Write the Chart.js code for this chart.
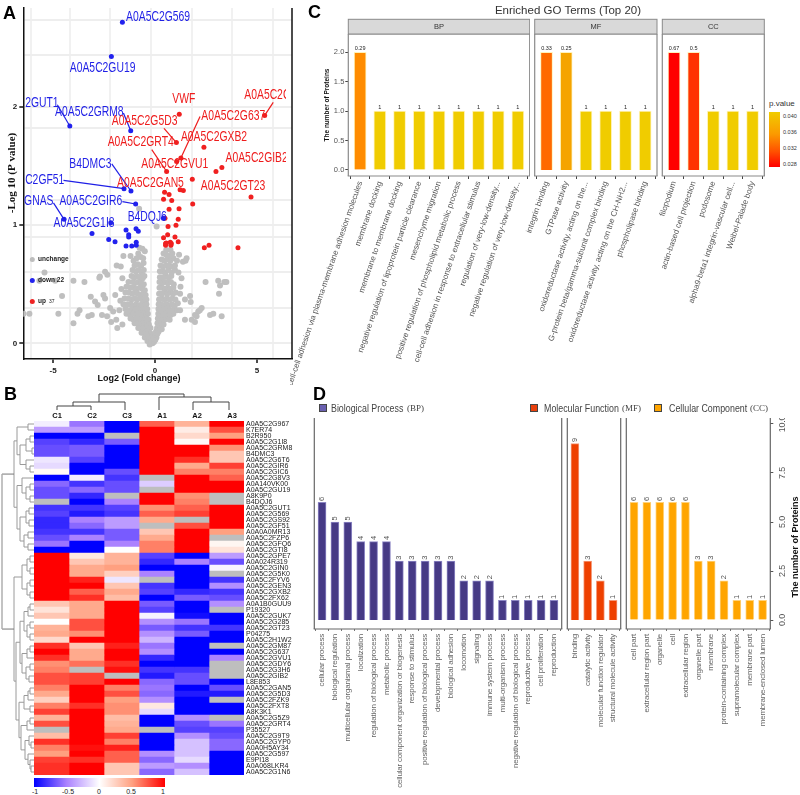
<!DOCTYPE html>
<html>
<head>
<meta charset="utf-8">
<title>Proteomics figure</title>
<script src="https://cdn.jsdelivr.net/npm/chart.js@4"></script>
<style>
  html, body { margin: 0; background: #fff; }
  #page { position: relative; width: 800px; height: 795px; overflow: hidden; font-family: "Liberation Sans", sans-serif; }
  #page canvas { position: absolute; }
  .txt { position: absolute; white-space: nowrap; line-height: 1; }
  .letter { font: bold 18px "Liberation Sans", sans-serif; color: #000; }
  .box { position: absolute; }
</style>
</head>
<body>
<div id="page"></div>
<script>
// ---- panel A: volcano plot
const upPoints = [[1.19,1.94],[5.38,1.93],[1.05,1.70],[2.40,1.66],[1.27,1.57],[1.06,1.54],[2.99,1.455],[3.28,1.49],[0.57,1.455],[1.83,1.39],[1.23,1.30],[1.39,1.295],[0.47,1.28],[0.69,1.26],[0.42,1.22],[0.82,1.21],[1.85,1.18],[4.71,1.24],[0.69,1.135],[1.18,1.14],[1.14,1.05],[0.49,1.06],[0.64,0.99],[1.03,1.00],[0.62,0.92],[0.98,0.90],[0.42,0.895],[1.14,0.86],[0.75,0.855],[0.52,0.845],[0.52,0.83],[0.78,0.83],[2.42,0.81],[2.65,0.83],[4.07,0.81],[0.55,0.85],[0.8,0.845]];
const downPoints = [[-1.60,2.72],[-2.14,2.43],[-4.18,1.84],[-1.19,1.80],[-1.52,1.31],[-1.18,1.29],[-0.95,1.18],[-4.46,1.05],[-2.17,1.02],[-3.09,0.93],[-1.42,0.96],[-0.93,0.97],[-0.82,0.95],[-1.29,0.92],[-1.29,0.90],[-2.27,0.88],[-1.96,0.86],[-1.42,0.825],[-1.14,0.825],[-0.92,0.855],[-0.92,0.83],[0.41,1.06]];
const unchangedPoints = [
  [-6.45,.25],[-6.16,.25],[-5.67,.53],[-5.42,.60],[-4.9,.53],[-4.56,.40],[-4.74,.25],[-4.0,.17],[-4.0,.53],[-3.46,.52],[-3.8,.25],[-3.7,.28],[-3.27,.23],[-3.1,.24],
  [-2.7,.565],[-2.73,.556],[-2.45,.607],[-2.34,.58],[-3.15,.395],[-2.94,.353],[-2.81,.325],[-2.53,.41],[-2.45,.38],[-2.6,.24],[-2.35,.23],[-2.2,.3],[-1.95,.41],[-1.88,.66],[-1.68,.65],[-1.55,.74],[-1.2,.74],
  [-1.9,.2],[-1.75,.28],[-1.7,.36],[-1.65,.46],[-1.6,.55],[-2.05,.27],[-2.15,.18],[-1.85,.13],[-1.6,.16],
  [.08,.99],[-.78,1.14],[-.76,.81],[-.62,.8],[-.5,.78],[-.82,.76],[-.9,.72],[-.7,.73],[-.58,.72],[-1.05,.7],[-1.0,.66],[-.85,.67],[-.68,.66],[-.56,.68],[-1.1,.62],[-.95,.61],[-.8,.62],[-.65,.6],[-.55,.62],
  [-1.15,.57],[-1.0,.56],[-.88,.57],[-.74,.56],[-.6,.55],[-.52,.57],[-1.3,.52],[-1.1,.52],[-.97,.51],[-.82,.52],[-.68,.51],[-.55,.5],[-1.4,.48],[-1.2,.47],[-1.05,.47],[-.9,.46],[-.75,.47],[-.62,.46],[-.5,.45],
  [-1.45,.43],[-1.28,.43],[-1.12,.42],[-.98,.43],[-.85,.42],[-.7,.41],[-.58,.42],[-.46,.41],[-1.5,.38],[-1.3,.38],[-1.15,.37],[-1.0,.38],[-.88,.37],[-.75,.38],[-.62,.37],[-.5,.36],[-.42,.37],
  [-1.55,.33],[-1.35,.33],[-1.2,.33],[-1.05,.32],[-.92,.33],[-.78,.32],[-.65,.33],[-.52,.32],[-.42,.33],[-1.45,.29],[-1.28,.28],[-1.12,.29],[-.98,.28],[-.85,.29],[-.72,.28],[-.6,.29],[-.48,.28],[-.38,.29],
  [-1.4,.25],[-1.22,.24],[-1.08,.25],[-.94,.24],[-.8,.25],[-.67,.24],[-.55,.25],[-.44,.24],[-.35,.25],[-1.2,.21],[-1.05,.2],[-.9,.21],[-.77,.2],[-.64,.21],[-.52,.2],[-.4,.21],[-.32,.2],
  [-1.0,.17],[-.86,.17],[-.74,.16],[-.62,.17],[-.5,.16],[-.4,.17],[-.3,.16],[-.82,.13],[-.7,.13],[-.6,.13],[-.5,.12],[-.4,.13],[-.3,.12],[-.22,.13],[-.66,.09],[-.56,.09],[-.46,.09],[-.37,.08],[-.28,.09],[-.2,.08],[-.5,.05],[-.41,.05],[-.33,.06],[-.25,.05],[-.17,.05],[-.1,.05],[-.37,.02],[-.29,.02],[-.22,.01],[-.15,.02],[-.08,.02],[-.26,-.01],[-.19,0],[-.12,0],[-.05,.01],
  [.02,.03],[.07,.05],[.0,.07],[.12,.08],[.05,.1],[.18,.1],[.1,.13],[.25,.13],[.33,.12],[.12,.17],[.2,.16],[.3,.17],[.42,.16],[.14,.21],[.24,.2],[.35,.21],[.47,.2],[.58,.21],[.72,.2],[.16,.25],[.27,.24],[.39,.25],[.51,.24],[.63,.25],[.77,.24],[.9,.25],
  [.17,.29],[.29,.28],[.41,.29],[.53,.28],[.66,.29],[.8,.28],[.95,.29],[1.08,.28],[.18,.33],[.31,.33],[.44,.32],[.56,.33],[.69,.32],[.83,.33],[.97,.32],[1.12,.34],[.2,.37],[.33,.38],[.46,.37],[.59,.38],[.72,.37],[.86,.38],[1.0,.37],
  [.2,.42],[.34,.42],[.47,.43],[.6,.42],[.74,.43],[.88,.42],[1.02,.43],[.22,.47],[.35,.47],[.49,.46],[.62,.47],[.76,.46],[.9,.47],[.22,.52],[.36,.51],[.5,.52],[.64,.51],[.78,.52],[.92,.5],[.24,.56],[.38,.56],[.52,.57],[.66,.56],[.8,.57],[.24,.61],[.38,.61],[.52,.6],[.66,.62],[.82,.6],[.98,.62],[.27,.66],[.4,.65],[.55,.66],[.7,.66],[.86,.65],[.98,.66],[.33,.71],[.46,.7],[.6,.71],[.75,.7],[.9,.72],[1.08,.7],[.42,.76],[.55,.75],[.7,.74],[.85,.76],[1.18,.75],[1.55,.72],[1.5,.7],[1.37,.69],[.55,.79],[.76,.79],
  [1.23,.42],[1.47,.37],[1.23,.28],[1.47,.2],[1.72,.4],[1.75,.35],[2.29,.3],[2.12,.27],[1.96,.24],[2.2,.28],[2.04,.23],[1.8,.2],[1.96,.18],[2.7,.24],[2.86,.25],[3.27,.23],[2.48,.52],[3.1,.53],[3.5,.52],[3.19,.49],[3.4,.52],[3.14,.42],[1.3,.55],[1.15,.6],[1.25,.48]
];
const volcanoTicksX = [-5, 0, 5];
const volcanoTicksY = [0, 1, 2];
const volcanoGridX = [-6.1, -4.17, -2.2, -0.21, 1.8, 3.76, 5.8];
const volcanoGridY = [2.74, 2.44, 1.82, 1.21, 0.9, 0.6, 0.3];
const blueLeaders = [[-4.79,2.02,-4.18,1.84],[-1.55,1.95,-1.19,1.80],[-2.12,1.52,-1.18,1.29],[-4.49,1.38,-1.52,1.31],[-1.60,1.20,-0.95,1.18],[-4.98,1.19,-4.46,1.05]];
const redLeaders = [[5.80,2.04,5.38,1.93],[2.21,1.92,1.27,1.57],[0.44,1.82,1.05,1.70],[-0.16,1.64,0.57,1.455]];
const blueNames = ['A0A5C2G569','A0A5C2GU19','2GUT1','A0A5C2GRM8','B4DMC3','C2GF51','GNAS','A0A5C2GIR6','A0A5C2G1I8','B4DQJ6'];
const blueNameX = [-1.42,-4.18,-6.37,-4.90,-4.20,-6.37,-6.42,-4.69,-4.98,-1.34];
const blueNameY = [2.76,2.33,2.03,1.96,1.52,1.38,1.20,1.20,1.02,1.07];
const redNames = ['VWF','A0A5C2G','A0A5C2G637','A0A5C2G5D3','A0A5C2GXB2','A0A5C2GRT4','A0A5C2GIB2','A0A5C2GVU1','A0A5C2GAN5','A0A5C2GT23'];
const redNameX = [0.85,4.38,2.27,-2.12,1.27,-2.32,3.46,-0.67,-1.86,2.25];
const redNameY = [2.07,2.10,1.92,1.88,1.75,1.70,1.565,1.52,1.36,1.33];

// ---- panel B: heatmap, null = no value
const heatColumns = ['C1','C2','C3','A1','A2','A3'];
const heatRows = ['A0A5C2G967','K7ER74','B2R950','A0A5C2G1I8','A0A5C2GRM8','B4DMC3','A0A5C2G6T6','A0A5C2GIR6','A0A5C2GIC6','A0A5C2G8V3','A0A140VK00','A0A5C2GU19','A8K9P0','B4DQJ6','A0A5C2GUT1','A0A5C2G569','A0A5C2GS92','A0A5C2GF51','A0A0A0MR13','A0A5C2FZP6','A0A5C2GFQ6','A0A5C2GTI8','A0A5C2GPE7','A0A024R319','A0A5C2GIN0','A0A5C2G5K0','A0A5C2FYV6','A0A5C2GEN3','A0A5C2GXB2','A0A5C2FX62','A0A1B0GUU9','P19320','A0A5C2GUK7','A0A5C2G285','A0A5C2GT23','P04275','A0A5C2H1W2','A0A5C2GM87','A0A5C2G637','A0A5C2GVU1','A0A5C2GDY6','A0A5C2G3H6','A0A5C2GIB2','L8E853','A0A5C2GAN5','A0A5C2G5D3','A0A5C2FZK9','A0A5C2FXT8','A8K3K1','A0A5C2G5Z9','A0A5C2GRT4','P35527','A0A5C2G9T9','A0A5C2GYP0','A0A0H5AY34','A0A5C2G597','E9PI18','A0A068LKR4','A0A5C2G1N6'];
const heatValues = [
  [-.07,-.55,-1,.7,.4,1],[-.4,-.4,-1,1,.1,.75],[-1,-1,null,1,.2,.5],[-.75,-.85,-.65,1,.03,1],[-.7,-.65,-1,1,1,.55],[-.7,-.65,-1,1,1,.3],[-.1,-.75,-1,1,.85,.3],[-.15,-1,-1,1,.45,.8],[.03,-1,-.7,1,.6,.6],
  [-1,-.08,-.8,null,1,.7],[-.6,-.8,-.7,-.2,1,1],[-.7,-.6,-.7,null,1,1],[-.7,-.85,null,1,.55,null],[null,-1,-.5,1,.6,null],[-.8,-.8,-.75,.55,.7,1],[-.75,-.9,-.8,.7,.8,1],[-.85,-.5,-.4,.45,null,1],[-.85,-.6,-.4,null,.75,1],
  [-.8,-.8,-.65,.3,1,.5],[-.7,-.5,-.65,.45,1,null],[-.55,-1,-.5,.6,1,.05],[-1,-1,0,.6,1,.15],
  [1,.12,.4,-.75,-1,-.4],[1,.3,.4,-.85,-.5,-.7],[1,.45,.5,-1,-1,-.05],[1,.45,.25,-.5,-1,null],[1,.9,-.1,null,-1,-.8],[1,1,.3,-.8,-1,-.45],[1,.7,.45,-.75,-.85,-.8],[1,.85,.35,-1,-.65,-.7],
  [.3,.45,1,-.65,-1,-.45],[.15,.45,1,-.75,-1,null],[.3,.45,1,-.05,-.95,-1],[0,.75,1,-.45,-.55,-1],[.4,.75,1,-.65,-.8,-.8],[.45,.55,1,-.45,-.65,-1],[.2,1,1,-.3,-1,-1],
  [.85,.3,.9,-.55,-1,null],[1,.45,1,-.45,-1,-1],[.85,.45,1,-.85,-1,-.5],[.55,.65,.85,-1,-1,null],[.6,null,.95,-.8,-.8,null],[.75,.8,null,-.9,-.7,null],[.75,.8,1,-.6,-.7,-1],
  [.6,1,.6,-.55,-1,-.7],[.45,1,.75,-.6,-.9,-.9],[.25,1,.5,-.45,-1,null],[.6,.85,.55,.12,-1,-1],[.8,1,.55,-.15,-1,-1],[.4,1,.35,-1,-.45,null],[.75,1,.4,-1,-.7,-.55],[null,1,.45,null,-.75,-.75],
  [.35,1,.8,-1,-.45,-.7],[.85,1,.6,-1,-.25,-.6],[.6,.95,.9,-1,-.25,-.6],[.5,1,.7,-.45,-.25,-1],[.8,.85,.7,-.6,-.15,-1],[.85,1,.3,-.4,-.45,-1],[.85,1,.3,-.6,-.25,-1]
];
const rowTree = [14,
  [17, [28,1,2], [20, [26,[30,3,4],[32,5,6]], [26,7,[30,8,9]]]],
  [17, [22,10,[26,[30,11,12],[30,13,14]]], [20,[26,[29,15,16],[29,17,18]],[24,[28,19,20],[28,21,22]]]]
];
const rowTree2 = [14,
  [22,[27,[30,23,24],[30,25,26]],[27,[30,27,28],[30,29,30]]],
  [16,
    [20,[24,[28,[30,31,32],33],[27,[30,34,35],[30,36,37]]],[22,[27,[30,38,39],40],[26,[30,41,42],[29,43,44]]]],
    [19,[24,[28,[30,45,46],47],[30,48,49]],[21,[27,[30,50,51],52],[25,[29,53,[31,54,55]],[28,56,[30,57,[31,58,59]]]]]]
  ]
];
const colorBarTicks = ['-1','-0.5','0','0.5','1'];

// ---- panel C: enriched GO terms
const goBpTerms = ['cell-cell adhesion via plasma-membrane adhesion molecules','membrane docking','membrane to membrane docking','negative regulation of lipoprotein particle clearance','mesenchyme migration','positive regulation of phospholipid metabolic process','cell-cell adhesion in response to extracellular stimulus','regulation of very-low-density...','negative regulation of very-low-density...'];
const goBpCounts = [2,1,1,1,1,1,1,1,1];
const goBpTexts = ['0.29','1','1','1','1','1','1','1','1'];
const goBpColors = ['#ff8c00','#f0cc00','#f0cc00','#f0cc00','#f0cc00','#f0cc00','#f0cc00','#f0cc00','#f0cc00'];
const goMfTerms = ['integrin binding','GTPase activity','oxidoreductase activity, acting on the...','G-protein beta/gamma-subunit complex binding','oxidoreductase activity, acting on the CH-NH2...','phospholipase binding'];
const goMfCounts = [2,2,1,1,1,1];
const goMfTexts = ['0.33','0.25','1','1','1','1'];
const goMfColors = ['#ff6a00','#f5a400','#f0cc00','#f0cc00','#f0cc00','#f0cc00'];
const goCcTerms = ['filopodium','actin-based cell projection','podosome','alpha9-beta1 integrin-vascular cell...','Weibel-Palade body'];
const goCcCounts = [2,2,1,1,1];
const goCcTexts = ['0.67','0.5','1','1','1'];
const goCcColors = ['#ff0000','#ff3300','#f0cc00','#f0cc00','#f0cc00'];
const pValueTicks = ['0.040','0.036','0.032','0.028'];

// ---- panel D: GO classification
const clsBpTerms = ['cellular process','biological regulation','multicellular organismal process','localization','regulation of biological process','metabolic process','cellular component organization or biogenesis','response to stimulus','positive regulation of biological process','developmental process','biological adhesion','locomotion','signaling','immune system process','multi-organism process','negative regulation of biological process','reproductive process','cell proliferation','reproduction'];
const clsBpCounts = [6,5,5,4,4,4,3,3,3,3,3,2,2,2,1,1,1,1,1];
const clsMfTerms = ['binding','catalytic activity','molecular function regulator','structural molecule activity'];
const clsMfCounts = [9,3,2,1];
const clsCcTerms = ['cell part','extracellular region part','organelle','cell','extracellular region','organelle part','membrane','protein-containing complex','supramolecular complex','membrane part','membrane-enclosed lumen'];
const clsCcCounts = [6,6,6,6,6,3,3,2,1,1,1];

// ---- helpers
Chart.defaults.animation = false;
Chart.defaults.responsive = false;
Chart.defaults.devicePixelRatio = 1;
Chart.defaults.plugins.legend.display = false;
Chart.defaults.plugins.tooltip.enabled = false;
Chart.defaults.font.family = '"Liberation Sans", sans-serif';
const page = document.getElementById('page');

function addCanvas(x, y, w, h) {
  const c = document.createElement('canvas');
  c.width = w; c.height = h;
  c.style.left = x + 'px'; c.style.top = y + 'px';
  c.style.width = w + 'px'; c.style.height = h + 'px';
  page.appendChild(c);
  return c;
}
function addText(text, x, y, css) {
  const d = document.createElement('div');
  d.className = 'txt';
  d.textContent = text;
  d.style.cssText += `left:${x}px;top:${y}px;${css || ''}`;
  page.appendChild(d);
  return d;
}
function addBox(x, y, w, h, css) {
  const d = document.createElement('div');
  d.className = 'box';
  d.style.cssText += `left:${x}px;top:${y}px;width:${w}px;height:${h}px;${css || ''}`;
  page.appendChild(d);
}
// keep the plot area where the figure has it, whatever the tick labels measure
function fixedSize(size) {
  return s => {
    if (s.isHorizontal()) s.height = size; else s.width = size;
    s.paddingLeft = s.paddingRight = s.paddingTop = s.paddingBottom = 0;
  };
}
function toPoints(list) { return list.map(p => ({ x: p[0], y: p[1] })); }
function line(ctx, x1, y1, x2, y2) { ctx.beginPath(); ctx.moveTo(x1, y1); ctx.lineTo(x2, y2); ctx.stroke(); }

function frame(sides, color, width) {
  return { id: 'frame', afterDraw(chart) {
    const { ctx, chartArea: a } = chart;
    ctx.save();
    ctx.strokeStyle = color; ctx.lineWidth = width;
    if (sides.includes('l')) line(ctx, a.left, a.top, a.left, a.bottom);
    if (sides.includes('r')) line(ctx, a.right, a.top, a.right, a.bottom);
    if (sides.includes('b')) line(ctx, a.left - width / 2, a.bottom, a.right + width / 2, a.bottom);
    if (sides.includes('t')) line(ctx, a.left, a.top, a.right, a.top);
    ctx.restore();
  } };
}
function strip(title) {
  return { id: 'strip', afterDraw(chart) {
    const { ctx, chartArea: a } = chart;
    ctx.save();
    ctx.fillStyle = '#d9d9d9'; ctx.strokeStyle = '#8a8a8a'; ctx.lineWidth = 1;
    ctx.fillRect(a.left, a.top - 14.7, a.right - a.left, 14.7);
    ctx.strokeRect(a.left, a.top - 14.7, a.right - a.left, 14.7);
    ctx.fillStyle = '#333'; ctx.font = '7.5px "Liberation Sans"'; ctx.textAlign = 'center'; ctx.textBaseline = 'middle';
    ctx.fillText(title, (a.left + a.right) / 2, a.top - 7);
    ctx.restore();
  } };
}
function valueLabels(texts, font, color, gap, upright) {
  return { id: 'valueLabels', afterDatasetsDraw(chart) {
    const { ctx } = chart;
    const bars = chart.getDatasetMeta(0).data;
    ctx.save();
    ctx.fillStyle = color; ctx.font = font;
    bars.forEach((b, i) => {
      ctx.save();
      ctx.translate(b.x, b.y - gap);
      if (!upright) { ctx.rotate(-Math.PI / 2); ctx.textAlign = 'left'; ctx.textBaseline = 'middle'; }
      else { ctx.textAlign = 'center'; ctx.textBaseline = 'bottom'; }
      ctx.fillText(texts[i], 0, 0);
      ctx.restore();
    });
    ctx.restore();
  } };
}
// the original uses a condensed face; tighten the tick text of a chart
function tightText(spacing) {
  return { id: 'tightText', beforeDraw(chart) { chart.ctx.letterSpacing = spacing; } };
}

// ---- A
const volcanoNames = { id: 'volcanoNames', afterDatasetsDraw(chart) {
  const { ctx, scales: { x, y } } = chart;
  function squeezed(t, px, py) {
    ctx.save();
    ctx.translate(px, py);
    ctx.scale(.74, 1);
    ctx.fillText(t, 0, 0);
    ctx.restore();
  }
  ctx.save();
  // protein names are cut at the edges of the plot in the original
  ctx.beginPath(); ctx.rect(24, 0, 262, 360); ctx.clip();
  ctx.font = '14px "Liberation Sans"'; ctx.textAlign = 'left'; ctx.textBaseline = 'middle';
  ctx.fillStyle = '#1f1fe6';
  blueNames.forEach((t, i) => squeezed(t, x.getPixelForValue(blueNameX[i]), y.getPixelForValue(blueNameY[i])));
  ctx.fillStyle = '#ee1c1c';
  redNames.forEach((t, i) => squeezed(t, x.getPixelForValue(redNameX[i]), y.getPixelForValue(redNameY[i])));
  // key
  const key = [['#bdbdbd', 'unchange', 259.5], ['#2222ee', 'down 22', 280.5], ['#ee2222', 'up', 301.5]];
  key.forEach(([c, t, py]) => {
    ctx.fillStyle = c; ctx.beginPath(); ctx.arc(32.3, py, 2.5, 0, 2 * Math.PI); ctx.fill();
    ctx.fillStyle = '#222'; ctx.font = 'bold 6.5px "Liberation Sans"';
    ctx.fillText(t, 38, py);
  });
  ctx.font = '5px "Liberation Sans"'; ctx.fillText('37', 49, 302);
  ctx.restore();
} };
// axis titles sit off-centre in the original
const volcanoTitles = { id: 'volcanoTitles', afterDraw(chart) {
  const { ctx } = chart;
  ctx.save();
  ctx.textAlign = 'center'; ctx.textBaseline = 'middle'; ctx.fillStyle = '#111';
  ctx.font = 'bold 9px "Liberation Sans"';
  ctx.fillText('Log2 (Fold change)', 139, 378.5);
  ctx.translate(12, 173);
  ctx.rotate(-Math.PI / 2);
  ctx.font = 'bold 11px "Liberation Serif"';
  ctx.fillText('-Log 10 (P value)', 0, 0);
  ctx.restore();
} };
new Chart(addCanvas(0, 0, 300, 385), {
  type: 'scatter',
  data: { datasets: [
    ...blueLeaders.map(l => ({ data: [{ x: l[0], y: l[1] }, { x: l[2], y: l[3] }], showLine: true, borderColor: '#1f1fe6', borderWidth: 1.2, pointRadius: 0, order: 1 })),
    ...redLeaders.map(l => ({ data: [{ x: l[0], y: l[1] }, { x: l[2], y: l[3] }], showLine: true, borderColor: '#ee1c1c', borderWidth: 1.2, pointRadius: 0, order: 1 })),
    { data: toPoints(downPoints), backgroundColor: '#2222ee', pointRadius: 2.5, borderWidth: 0, order: 2 },
    { data: toPoints(upPoints), backgroundColor: '#f02020', pointRadius: 2.5, borderWidth: 0, order: 3 },
    { data: toPoints(unchangedPoints), backgroundColor: '#bfbfbf', pointRadius: 3, borderWidth: 0, order: 4 }
  ] },
  options: {
    layout: { padding: { top: 8, right: 8 } },
    scales: {
      x: {
        type: 'linear', min: -6.46, max: 6.72,
        afterBuildTicks: s => { s.ticks = volcanoGridX.concat(volcanoTicksX).map(v => ({ value: v })); },
        afterFit: fixedSize(26),
        ticks: { autoSkip: false, padding: 3, color: '#222', font: { size: 8, weight: 'bold' }, maxRotation: 0, callback: v => volcanoTicksX.includes(v) ? String(v) : '' },
        grid: { lineWidth: c => volcanoTicksX.includes(c.tick.value) ? 0 : 2, color: '#f1f1f1', tickColor: c => volcanoTicksX.includes(c.tick.value) ? '#111' : 'rgba(0,0,0,0)', tickWidth: 1.5, tickLength: 4 },
        border: { color: '#111', width: 1.5 }
      },
      y: {
        min: -0.133, max: 2.84,
        afterBuildTicks: s => { s.ticks = volcanoGridY.concat(volcanoTicksY).map(v => ({ value: v })); },
        afterFit: fixedSize(23.3),
        ticks: { autoSkip: false, padding: 2, color: '#222', font: { size: 8, weight: 'bold' }, callback: v => volcanoTicksY.includes(v) ? String(v) : '' },
        grid: { lineWidth: 2, color: '#eeeeee', tickColor: c => volcanoTicksY.includes(c.tick.value) ? '#111' : 'rgba(0,0,0,0)', tickWidth: 1.5, tickLength: 4 },
        border: { color: '#111', width: 1.5 }
      }
    }
  },
  plugins: [volcanoNames, volcanoTitles, frame('r', '#111', 1.5)]
});

// ---- B
function heatColor(v) {
  if (v === null) return '#bebebe';
  const stops = [[-1,0,0,255],[-.5,171,130,255],[0,255,255,255],[.5,255,160,128],[1,255,0,0]];
  for (let i = 1; i < stops.length; i++) {
    if (v <= stops[i][0]) {
      const a = stops[i - 1], b = stops[i], t = (v - a[0]) / (b[0] - a[0]);
      return `rgb(${[1,2,3].map(k => Math.round(a[k] + (b[k] - a[k]) * t)).join(',')})`;
    }
  }
  return '#ff0000';
}
const dendrograms = { id: 'dendrograms', afterDraw(chart) {
  const { ctx, scales: { y } } = chart;
  const area = chart.chartArea;
  ctx.save();
  ctx.strokeStyle = '#9a9a9a'; ctx.lineWidth = 1;
  function walk(node) {
    if (typeof node === 'number') return { x: area.left, y: y.getPixelForValue(node - 1) };
    const a = walk(node[1]), b = walk(node[2]);
    line(ctx, node[0], a.y, a.x, a.y);
    line(ctx, node[0], b.y, b.x, b.y);
    line(ctx, node[0], a.y, node[0], b.y);
    return { x: node[0], y: (a.y + b.y) / 2 };
  }
  const up = walk(rowTree), low = walk(rowTree2);
  ctx.strokeStyle = '#777';
  line(ctx, 2, up.y, up.x, up.y);
  line(ctx, 2, low.y, low.x, low.y);
  ctx.strokeStyle = '#aaa'; ctx.lineWidth = 1.4;
  line(ctx, 2, up.y, 2, low.y);
  // columns, drawn from the same plot position as the cell columns
  const top = [[99,9,184,9],[99,9,99,17],[184,9,184,12],[73,17,125,17],[125,17,125,25],[73,17,73,21],[57,21,91,21],[57,21,57,25],[91,21,91,25],[159,12,211,12],[159,12,159,25],[211,12,211,17],[193,17,229,17],[193,17,193,25],[229,17,229,25]];
  ctx.strokeStyle = '#444'; ctx.lineWidth = 1;
  top.forEach(s => line(ctx, s[0], s[1], s[2], s[3]));
  ctx.restore();
} };
new Chart(addCanvas(0, 385, 300, 392), {
  type: 'bar',
  data: {
    labels: heatRows,
    datasets: heatColumns.map((name, c) => ({
      label: name,
      data: heatRows.map(() => 1),
      backgroundColor: heatValues.map(r => heatColor(r[c])),
      borderWidth: 0, barPercentage: 1, categoryPercentage: 1
    }))
  },
  options: {
    indexAxis: 'y',
    layout: { padding: { left: 34, bottom: 2 } },
    scales: {
      x: {
        type: 'linear', position: 'top', stacked: true, min: 0, max: 6,
        // column names stand a little right of the column centres in the original
        afterBuildTicks: s => { s.ticks = heatColumns.map((_, i) => ({ value: i + .66 })); },
        afterFit: fixedSize(36),
        ticks: { autoSkip: false, maxRotation: 0, padding: 1, color: '#111', font: { size: 7.5, weight: 'bold' }, callback: (v, i) => heatColumns[i] },
        grid: { display: false, drawTicks: false }, border: { display: false }
      },
      y: {
        position: 'right', stacked: true,
        afterFit: fixedSize(56),
        ticks: { autoSkip: false, padding: 2, color: '#222', font: { size: 7 } },
        grid: { display: false, drawTicks: false }, border: { display: false }
      }
    }
  },
  plugins: [dendrograms]
});
// colour key under the heatmap
addBox(34, 778, 131, 9, 'background:linear-gradient(90deg,#00f 0%,#ab82ff 25%,#fff 50%,#ffa080 75%,#f00 100%)');
[35, 68, 99, 131, 163].forEach((px, i) => addText(colorBarTicks[i], px, 788, 'font-size:7px;color:#222;transform:translateX(-50%)'));

// ---- C
function goPanel(x, w, padL, padR, terms, counts, texts, colors, title, first) {
  const plugins = [valueLabels(texts, '5.5px "Liberation Sans"', '#222', 1, true), frame('lrtb', '#8a8a8a', 1.2), strip(title)];
  new Chart(addCanvas(x, 0, w, 385), {
    type: 'bar',
    data: { datasets: [{
      data: counts.map((v, i) => ({ x: i, y: v })),
      backgroundColor: colors, borderColor: 'rgba(255,240,170,.8)', borderWidth: 1, barThickness: 12
    }] },
    options: {
      layout: { padding: { top: 34, left: first ? 0 : padL, right: padR } },
      scales: {
        x: {
          type: 'linear', offset: false, min: -.6, max: terms.length - .4,
          afterBuildTicks: s => { s.ticks = terms.map((_, i) => ({ value: i })); },
          afterFit: fixedSize(209),
          ticks: { autoSkip: false, minRotation: 71, maxRotation: 71, padding: 1, color: '#555', font: { size: 8 }, callback: v => terms[v] },
          grid: { drawOnChartArea: false, tickLength: 3, tickColor: '#444' }, border: { display: false }
        },
        y: first ? {
          min: -.102, max: 2.311,
          afterFit: fixedSize(padL),
          ticks: { stepSize: .5, includeBounds: false, padding: 1, color: '#555', font: { size: 7.5 }, callback: v => v.toFixed(1) },
          grid: { drawOnChartArea: false, tickLength: 3, tickColor: '#444' }, border: { display: false },
          title: { display: true, text: 'The number of Proteins', color: '#111', font: { size: 6.5, weight: 'bold' }, padding: { top: 33, bottom: 0 } }
        } : { display: false, min: -.102, max: 2.311 }
      }
    },
    plugins
  });
}
goPanel(290, 240, 58.3, .3, goBpTerms, goBpCounts, goBpTexts, goBpColors, 'BP', true);
goPanel(500, 158, 34.7, 1, goMfTerms, goMfCounts, goMfTexts, goMfColors, 'MF', false);
goPanel(620, 146, 42.3, 1.7, goCcTerms, goCcCounts, goCcTexts, goCcColors, 'CC', false);
addText('Enriched GO Terms (Top 20)', 568, 5, 'font-size:11.5px;color:#333;transform:translateX(-50%)');
addText('p.value', 769, 100, 'font-size:8px;color:#333');
addBox(769.3, 111.7, 10.7, 55, 'background:linear-gradient(180deg,#f0cc00 0%,#fb9a00 40%,#ff5000 72%,#ff0000 100%)');
[116.7, 132.7, 148.7, 164.7].forEach((py, i) => addText(pValueTicks[i], 783, py - 3, 'font-size:5.5px;color:#333'));

// ---- D
function clsPanel(x, w, padL, padR, terms, counts, color, edge, sides, last) {
  const plugins = [tightText('-0.2px'), valueLabels(counts.map(String), '7.5px "Liberation Sans"', '#555', 1.5, false), frame(sides, '#666', 1.2)];
  const yLimits = { min: -.459, max: 10.306 };
  if (last) plugins.push({ id: 'sideTitle', afterDraw(chart) {
    const ctx = chart.ctx;
    ctx.save();
    ctx.letterSpacing = '0px';
    ctx.translate(175.7, 129);
    ctx.rotate(-Math.PI / 2);
    ctx.fillStyle = '#111'; ctx.font = 'bold 9px "Liberation Sans"'; ctx.textAlign = 'center'; ctx.textBaseline = 'middle';
    ctx.fillText('The number of Proteins', 0, 0);
    ctx.restore();
  } });
  new Chart(addCanvas(x, 418, w, 377), {
    type: 'bar',
    data: { datasets: [{
      data: counts.map((v, i) => ({ x: i, y: v })),
      backgroundColor: color, borderColor: edge, borderWidth: 1, barThickness: 8
    }] },
    options: {
      layout: { padding: { left: padL, right: padR } },
      scales: {
        x: {
          type: 'linear', offset: false, min: -.6, max: terms.length - .4,
          afterBuildTicks: s => { s.ticks = terms.map((_, i) => ({ value: i })); },
          afterFit: fixedSize(166),
          ticks: { autoSkip: false, minRotation: 90, maxRotation: 90, padding: 3, color: '#666', font: { size: 8 }, callback: v => terms[v] },
          grid: { drawOnChartArea: false, tickLength: 2, tickColor: '#777' }, border: { display: false }
        },
        y: last ? Object.assign({
          position: 'right',
          afterFit: fixedSize(20),
          ticks: { stepSize: 2.5, includeBounds: false, minRotation: 90, maxRotation: 90, crossAlign: 'center', padding: 0, color: '#555', font: { size: 9 }, callback: v => v.toFixed(1) },
          grid: { drawOnChartArea: false, tickLength: 3, tickColor: '#555' }, border: { display: false }
        }, yLimits) : Object.assign({ display: false }, yLimits)
      }
    },
    plugins
  });
}
clsPanel(300, 264, 14.3, 2.3, clsBpTerms, clsBpCounts, '#463a85', '#8c86c4', 'lrb', false);
clsPanel(560, 65, 7.3, 4.3, clsMfTerms, clsMfCounts, '#ee4000', '#f59a7a', 'lrb', false);
clsPanel(620, 180, 6.3, 9.7, clsCcTerms, clsCcCounts, '#ffa500', '#ffd27a', 'lrb', true);

// legend of panel D
const legendItems = [
  [318.5, '#6a60b0', 'Biological Process', 331, '(BP)', 407],
  [530, '#e8400c', 'Molecular Function', 544, '(MF)', 622],
  [654, '#ffa500', 'Cellular Component', 668.7, '(CC)', 750]
];
legendItems.forEach(([bx, c, name, tx, abbr, ax]) => {
  addBox(bx, 404, 6, 6, `background:${c};border:1px solid #444`);
  addText(name, tx, 402, 'font:11.5px "Liberation Sans";color:#444;transform:scaleX(.77);transform-origin:left');
  addText(abbr, ax, 403, 'font:9px "Liberation Serif";color:#444');
});

// panel letters
addText('A', 3, 3, '').classList.add('letter');
addText('B', 4, 384, '').classList.add('letter');
addText('C', 308, 2, '').classList.add('letter');
addText('D', 313, 384, '').classList.add('letter');
</script>
</body>
</html>
